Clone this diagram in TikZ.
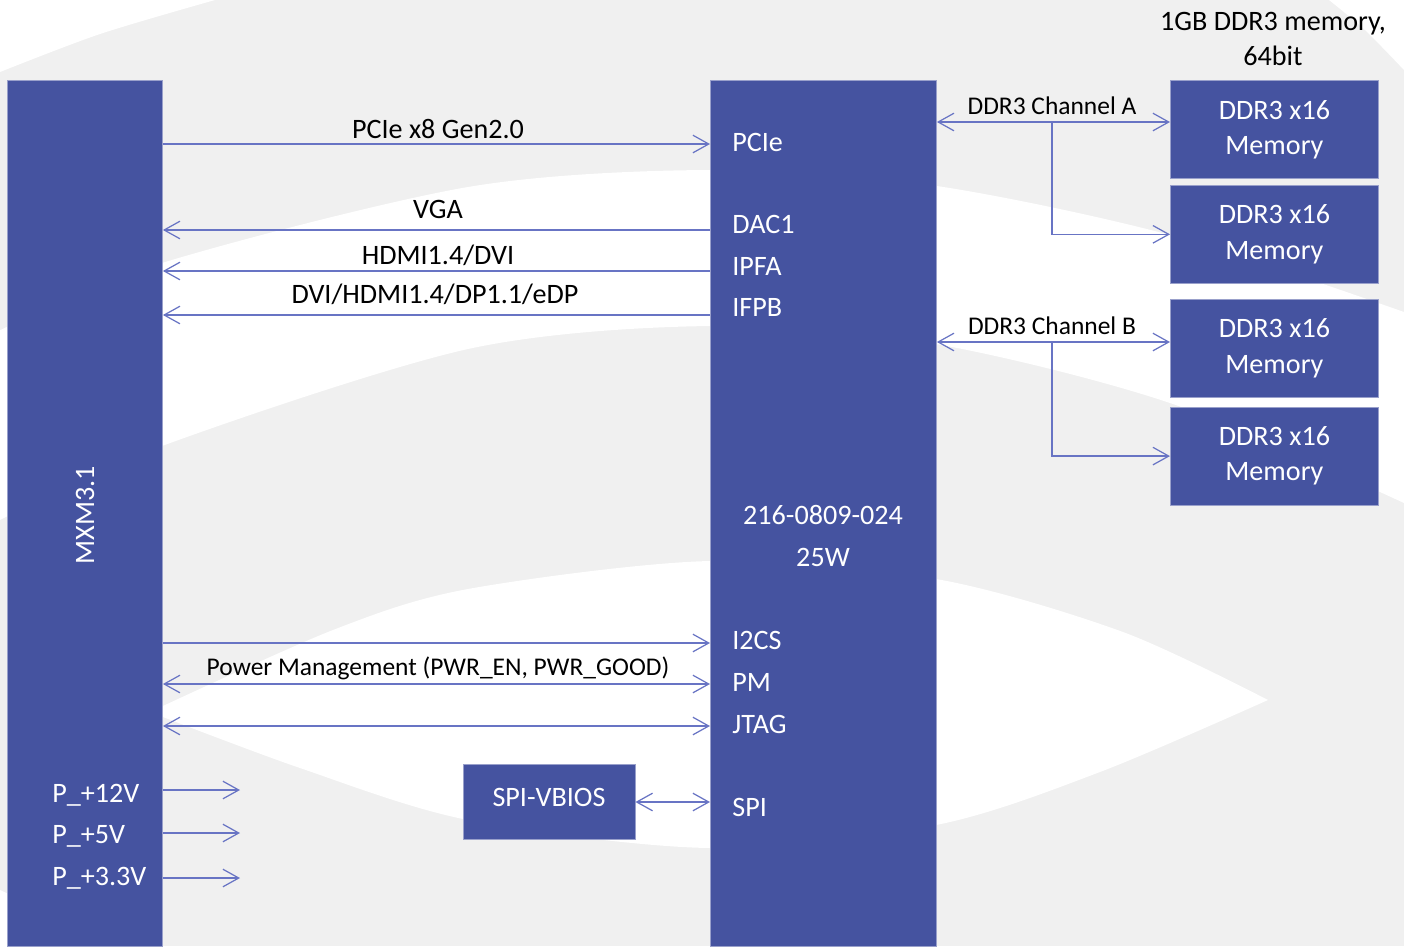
\documentclass[tikz,border=0pt]{standalone}
\usepackage{fontspec}
\setmainfont{Carlito}
\usetikzlibrary{arrows.meta,positioning}
\definecolor{chipblue}{RGB}{69,83,160}
\definecolor{wirecol}{RGB}{104,116,196}
\definecolor{logogray}{RGB}{240,240,240}

\begin{document}
\begin{tikzpicture}[x=0.2mm, y=-0.2mm,
    font=\fontsize{16}{20}\selectfont,
    block/.style={draw=chipblue!55!white, line width=0.5pt, fill=chipblue, text=white, inner sep=0pt, align=center},
    memory/.style={block, minimum width=41.6mm, minimum height=19.6mm},
    pinlabel/.style={text=white, anchor=base west, inner sep=0pt},
    sig/.style={anchor=base, inner sep=0pt},
    smallsig/.style={sig, font=\fontsize{14.5}{18}\selectfont},
    link/.style={wirecol, line width=0.7pt},
    >={Straight Barb[length=9pt, width=10pt]}]

    \useasboundingbox (0,0) rectangle (1404,946);

    % Watermark in the background
    \begin{scope}
        \clip (0,0) rectangle (1404,946);
        \fill[logogray] (0,0) rectangle (1404,946);
        \fill[white] (0,0) -- plot[smooth] coordinates {(0,72) (100,34) (215,0)} -- cycle;
        \fill[white] (1404,0) -- plot[smooth] coordinates {(1329,0) (1365,30) (1404,70)} -- cycle;
        \fill[white] plot[smooth] coordinates {(-10,335) (162,263) (468,187) (710,170) (930,185) (1170,235) (1404,312)}
            -- plot[smooth] coordinates {(1404,503) (1170,403) (930,343) (710,326) (468,349) (162,446) (-10,525)} -- cycle;
        \fill[white] plot[smooth] coordinates {(150,712) (333,630) (468,589) (710,561) (936,579) (1123,632) (1268,700)}
            -- plot[smooth] coordinates {(1268,700) (1100,772) (936,825) (710,848) (468,820) (300,768) (150,712)} -- cycle;
        \fill[white] (0,946) -- plot[smooth] coordinates {(0,890) (80,925) (160,946)} -- cycle;
    \end{scope}

    % Blocks
    \node[block, anchor=north west, minimum width=31mm, minimum height=173.2mm] (mxm) at (7,80) {};
    \node[text=white, rotate=90, inner sep=0pt] (mxmname) at (85,515) {MXM3.1};
    \node[block, anchor=north west, minimum width=45.2mm, minimum height=173.2mm] (chip) at (710,80) {};
    \node[text=white, align=center, inner sep=0pt, font=\fontsize{16}{24}\selectfont] (chipname) at (823,536) {216-0809-024\\25W};
    \node[memory, anchor=north west] (mem1) at (1170,80) {DDR3 x16\\Memory};
    \node[memory, below=1.2mm of mem1] (mem2) {DDR3 x16\\Memory};
    \node[memory, below=3mm of mem2] (mem3) {DDR3 x16\\Memory};
    \node[memory, below=1.8mm of mem3] (mem4) {DDR3 x16\\Memory};
    \node[align=center, inner sep=0pt, font=\fontsize{16}{20}\selectfont] (memtitle) at (1273,39) {1GB DDR3 memory,\\64bit};
    \node[block, minimum width=34.4mm, minimum height=15mm, text depth=5.6pt] (vbios) at (549,802) {SPI-VBIOS};

    % Pins of the GPU
    \node[pinlabel] (pPCIe) at (732,151) {PCIe};
    \node[pinlabel] (pDAC) at (732,233) {DAC1};
    \node[pinlabel] (pIPFA) at (732,275) {IPFA};
    \node[pinlabel] (pIFPB) at (732,316) {IFPB};
    \node[pinlabel] (pI2C) at (732,649) {I2CS};
    \node[pinlabel] (pPM) at (732,691) {PM};
    \node[pinlabel] (pJTAG) at (732,733) {JTAG};
    \node[pinlabel] (pSPI) at (732,816) {SPI};

    % Power rails of the MXM connector
    \node[pinlabel] (r12) at (52,802) {P\_+12V};
    \node[pinlabel] (r5) at (52,843) {P\_+5V};
    \node[pinlabel] (r33) at (52,885) {P\_+3.3V};

    % Signal names
    \node[sig] (lPCIe) at (438,138) {PCIe x8 Gen2.0};
    \node[sig] (lVGA) at (438,218) {VGA};
    \node[sig] (lHDMI) at (438,264) {HDMI1.4/DVI};
    \node[sig] (lDVI) at (435,303) {DVI/HDMI1.4/DP1.1/eDP};
    \node[smallsig] (lPM) at (438,675) {Power Management (PWR\_EN, PWR\_GOOD)};
    \node[smallsig] (lChA) at (1052,114) {DDR3 Channel A};
    \node[smallsig] (lChB) at (1052,334) {DDR3 Channel B};

    % Levels of the links
    \coordinate (yPCIe) at (0,144);
    \coordinate (yVGA) at (0,230);
    \coordinate (yHDMI) at (0,271);
    \coordinate (yDVI) at (0,315);
    \coordinate (yI2C) at (0,643);
    \coordinate (yPM) at (0,684);
    \coordinate (yJTAG) at (0,726);
    \coordinate (e12) at (240,790);
    \coordinate (e5) at (240,833);
    \coordinate (e33) at (240,878);
    \coordinate (brA) at (1052,122);
    \coordinate (brB) at (1052,342);

    % Links between MXM and GPU
    \path[link]
    (mxm.east |- yPCIe) edge[->] (chip.west |- yPCIe)
    (chip.west |- yVGA) edge[->] (mxm.east |- yVGA)
    (chip.west |- yHDMI) edge[->] (mxm.east |- yHDMI)
    (chip.west |- yDVI) edge[->] (mxm.east |- yDVI)
    (mxm.east |- yI2C) edge[->] (chip.west |- yI2C)
    (mxm.east |- yPM) edge[<->] (chip.west |- yPM)
    (mxm.east |- yJTAG) edge[<->] (chip.west |- yJTAG)
    (mxm.east |- e12) edge[->] (e12)
    (mxm.east |- e5) edge[->] (e5)
    (mxm.east |- e33) edge[->] (e33)
    (vbios.east) edge[<->] (chip.west |- vbios.east);

    % Memory channels
    \path[link]
    (chip.east |- brA) edge[<->] (mem1.west |- brA)
    (chip.east |- brB) edge[<->] (mem3.west |- brB);
    \draw[link, ->] (brA) |- (mem2.west);
    \draw[link, ->] (brB) |- (mem4.west);

\end{tikzpicture}
\end{document}
